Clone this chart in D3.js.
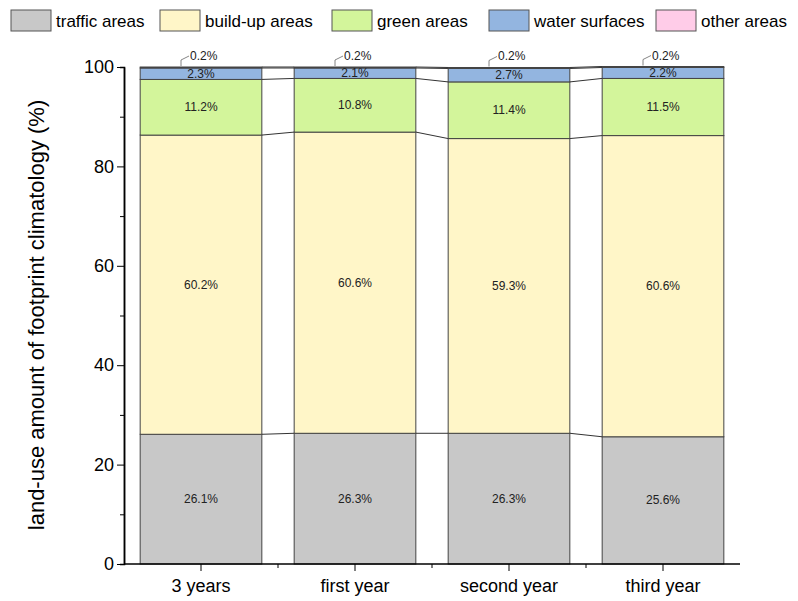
<!DOCTYPE html>
<html><head><meta charset="utf-8">
<script src="https://cdn.jsdelivr.net/npm/d3@7"></script>
<style>body{margin:0;background:#fff}text{font-family:Arial,"Liberation Sans",sans-serif}</style>
</head><body><div id="chart"></div>
<script>
var width = 798, height = 601;
var categories = ["3 years", "first year", "second year", "third year"];
var seriesNames = ["traffic areas", "build-up areas", "green areas", "water surfaces", "other areas"];
var traffic = [26.1, 26.3, 26.3, 25.6];
var buildup = [60.2, 60.6, 59.3, 60.6];
var green = [11.2, 10.8, 11.4, 11.5];
var water = [2.3, 2.1, 2.7, 2.2];
var other = [0.2, 0.2, 0.2, 0.2];
var yTicks = [0, 20, 40, 60, 80, 100];
var colors = ["#c8c8c8", "#fff6c8", "#d3f59b", "#93b5e0", "#ffcce8"];

var series = [traffic, buildup, green, water, other];
var rows = categories.map(function (c, i) {
    var r = {cat: c};
    seriesNames.forEach(function (s, j) { r[s] = series[j][i]; });
    return r;
});
var stacked = d3.stack().keys(seriesNames)(rows);

var svg = d3.select("#chart").append("svg").attr("width", width).attr("height", height);
var x = d3.scaleBand().domain(categories).range([124, 740]).paddingInner(0.21).paddingOuter(0.105);
var y = d3.scaleLinear().domain([0, 100]).range([564, 67]);

// connector lines between bars
stacked.forEach(function (layer) {
    for (var i = 0; i < categories.length - 1; i++) {
        svg.append("line")
            .attr("x1", x(categories[i]) + x.bandwidth()).attr("x2", x(categories[i + 1]))
            .attr("y1", y(layer[i][1])).attr("y2", y(layer[i + 1][1]))
            .attr("stroke", "#333").attr("stroke-width", 1);
    }
});

stacked.forEach(function (layer, j) {
    svg.append("g").selectAll("rect").data(layer).enter().append("rect")
        .attr("x", function (d) { return x(d.data.cat); })
        .attr("width", x.bandwidth())
        .attr("y", function (d) { return y(d[1]); })
        .attr("height", function (d) { return y(d[0]) - y(d[1]); })
        .attr("fill", colors[j]).attr("stroke", "#444").attr("stroke-width", 1);
});

// value labels
stacked.slice(0, 4).forEach(function (layer) {
    svg.append("g").selectAll("text").data(layer).enter().append("text")
        .attr("x", function (d) { return x(d.data.cat) + x.bandwidth() / 2; })
        .attr("y", function (d) { return (y(d[0]) + y(d[1])) / 2 + 4; })
        .attr("text-anchor", "middle").attr("font-size", 12).attr("fill", "#222")
        .text(function (d) { return (d[1] - d[0]).toFixed(1) + "%"; });
});
// 'other' callouts
var topLayer = stacked[4];
topLayer.forEach(function (d) {
    var cx = x(d.data.cat) + x.bandwidth() / 2;
    var yy = y(d[1]);
    svg.append("path").attr("d", "M" + (cx - 20) + "," + (yy - 1) + "L" + (cx - 20) + "," + (yy - 7) + "L" + (cx - 12) + "," + (yy - 11))
        .attr("fill", "none").attr("stroke", "#666").attr("stroke-width", 0.8);
    svg.append("text").attr("x", cx - 11).attr("y", yy - 7).attr("font-size", 12).attr("fill", "#222")
        .text((d[1] - d[0]).toFixed(1) + "%");
});

// axes
var yAxis = svg.append("g").attr("transform", "translate(124,0)")
    .call(d3.axisLeft(y).tickValues(yTicks).tickSize(7).tickSizeOuter(0));
svg.append("g").attr("transform", "translate(124,0)")
    .call(d3.axisLeft(y).tickValues([10, 30, 50, 70, 90]).tickSize(4).tickFormat(""));
yAxis.selectAll("text").attr("font-size", 18).attr("fill", "#000");
var xAxis = svg.append("g").attr("transform", "translate(0,564)")
    .call(d3.axisBottom(x).tickSize(7).tickSizeOuter(0));
xAxis.select(".domain").attr("d", "M124,0H740");
xAxis.selectAll("text").attr("font-size", 18).attr("fill", "#000").attr("dy", "1em");
var step = x.step();
svg.append("g").selectAll("line").data(categories.slice(1)).enter().append("line")
    .attr("x1", function (d) { return x(d) - step * 0.105; }).attr("x2", function (d) { return x(d) - step * 0.105; })
    .attr("y1", 564).attr("y2", 568).attr("stroke", "#000");
svg.selectAll(".domain").attr("stroke-width", 1.5);

svg.append("text").attr("transform", "translate(44,315) rotate(-90)")
    .attr("text-anchor", "middle").attr("font-size", 22).text("land-use amount of footprint climatology (%)");

// legend
var lx = [11, 160, 332, 489, 656];
seriesNames.forEach(function (s, j) {
    var g = svg.append("g").attr("transform", "translate(" + lx[j] + ",10)");
    g.append("rect").attr("width", 40).attr("height", 21).attr("fill", colors[j]).attr("stroke", "#555");
    g.append("text").attr("x", 45).attr("y", 17).attr("font-size", 17).text(s);
});
</script></body></html>
